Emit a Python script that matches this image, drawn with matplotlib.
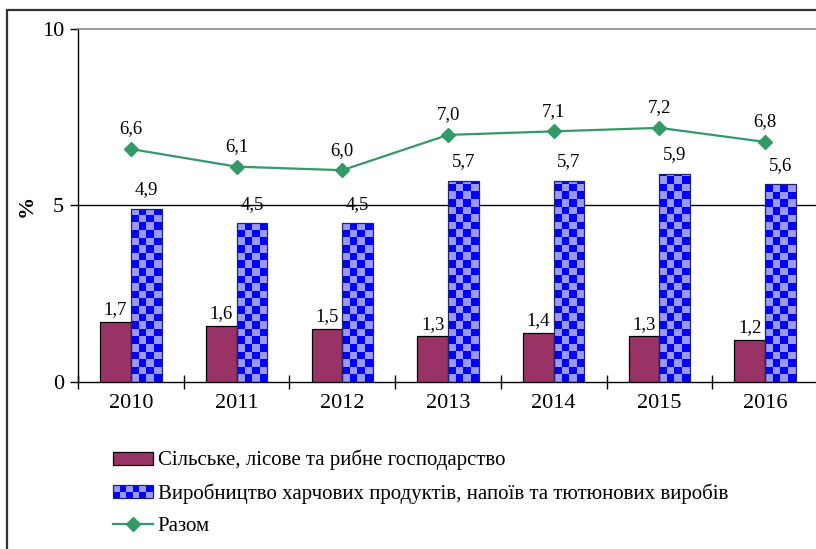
import matplotlib
matplotlib.use('Agg')
import matplotlib.pyplot as plt
import numpy as np
from matplotlib.patches import Rectangle
from matplotlib.colors import ListedColormap
from matplotlib.legend_handler import HandlerBase
from matplotlib.lines import Line2D

years = ['2010', '2011', '2012', '2013', '2014', '2015', '2016']
agri = [1.7, 1.6, 1.5, 1.3, 1.4, 1.3, 1.2]
food = [4.9, 4.5, 4.5, 5.7, 5.7, 5.9, 5.6]
total = [6.6, 6.1, 6.0, 7.0, 7.1, 7.2, 6.8]
series_names = ['Сільське, лісове та рибне господарство',
                'Виробництво харчових продуктів, напоїв та тютюнових виробів',
                'Разом']
yticks = [0, 5, 10]

plt.rcParams['font.family'] = ['Liberation Serif', 'DejaVu Serif']

W, H = 816, 549
fig = plt.figure(figsize=(W / 100, H / 100), dpi=100)

# outer frame
fig.patches.append(Rectangle((7 / W, -0.05), 1.2, 1 - 10 / H + 0.05,
                             transform=fig.transFigure, fill=False,
                             edgecolor='#333333', lw=1.6, zorder=0))

ax_l, ax_b, ax_w, ax_h = 78, 549 - 382, 740, 353
ax = fig.add_axes([ax_l / W, ax_b / H, ax_w / W, ax_h / H])
ax.set_facecolor('none')

x = np.arange(len(years))
w = 0.29
maroon = '#993366'
dark_blue = '#0000ff'
light_blue = '#9999ff'
green = '#339966'
cmap = ListedColormap([light_blue, dark_blue])

ax.bar(x - w / 2, agri, w, color=maroon, edgecolor='black', lw=0.9, zorder=3)
bars2 = ax.bar(x + w / 2, food, w, color=light_blue, edgecolor='none', lw=0, zorder=2)

px_x = ax_w / len(years)   # pixels per category unit
px_y = ax_h / 10.0         # pixels per y unit
sq = 7.6
sqx, sqy = sq / px_x, sq / px_y
for rect in bars2:
    x0 = rect.get_x()
    bw = rect.get_width()
    bh = rect.get_height()
    ncol = int(np.ceil(bw / sqx)) + 1
    nrow = int(np.ceil(bh / sqy)) + 1
    arr = np.add.outer(np.arange(nrow), np.arange(ncol)) % 2
    im = ax.imshow(arr, cmap=cmap, extent=(x0, x0 + ncol * sqx, 0, nrow * sqy),
                   origin='lower', interpolation='nearest', aspect='auto', zorder=2.5)
    im.set_clip_path(rect)
    ax.add_patch(Rectangle((x0, 0), bw, bh, fill=False, edgecolor='#222266', lw=0.9, zorder=3))

ax.plot(x, total, color=green, lw=1.6, marker='D', ms=7.5, mfc=green, mec=green, zorder=5)

def fmt(v):
    return f'{v:.1f}'.replace('.', ',')

lab_fs = 13.5
for xi, v in zip(x, agri):
    ax.annotate(fmt(v), (xi - w / 2, v), xytext=(0, 12 * 0.72), textcoords='offset points',
                ha='center', va='center', fontsize=lab_fs)
for xi, v in zip(x, food):
    ax.annotate(fmt(v), (xi + w / 2, v), xytext=(0, 19 * 0.72), textcoords='offset points',
                ha='center', va='center', fontsize=lab_fs)
for xi, v in zip(x, total):
    ax.annotate(fmt(v), (xi, v), xytext=(0, 20 * 0.72), textcoords='offset points',
                ha='center', va='center', fontsize=lab_fs)

ax.set_xlim(-0.5, len(years) - 0.5)
ax.set_ylim(0, 10)
ax.axhline(5, color='black', lw=1.0, zorder=1)

ax.set_yticks(yticks)
ax.set_yticklabels([str(t) for t in yticks], fontsize=16)
ax.tick_params(axis='y', direction='out', length=6, width=1, pad=4)
ax.set_xticks(x)
ax.set_xticklabels(years, fontsize=16)
ax.set_xticks(np.arange(len(years) + 1) - 0.5, minor=True)
ax.tick_params(axis='x', which='major', length=0, pad=9)
ax.tick_params(axis='x', which='minor', direction='inout', length=10, width=1)

for s in ['left', 'bottom']:
    ax.spines[s].set_color('black')
    ax.spines[s].set_linewidth(1.0)
ax.spines['top'].set_color('#888888')
ax.spines['top'].set_linewidth(1.2)
ax.spines['right'].set_visible(False)

fig.text(27 / W, 1 - 206 / H, '%', rotation=90, fontsize=16, fontweight='bold',
         ha='center', va='center')


class CheckerHandler(HandlerBase):
    def create_artists(self, legend, orig_handle, xdescent, ydescent, width, height,
                       fontsize, trans):
        arts = []
        ncol, nrow = 6, 2
        cw, ch = width / ncol, height / nrow
        for i in range(nrow):
            for j in range(ncol):
                c = dark_blue if (i + j) % 2 == 0 else light_blue
                r = Rectangle((-xdescent + j * cw, -ydescent + i * ch), cw, ch,
                              facecolor=c, edgecolor='none', transform=trans)
                arts.append(r)
        arts.append(Rectangle((-xdescent, -ydescent), width, height, fill=False,
                              edgecolor='#222266', lw=0.9, transform=trans))
        return arts


h1 = Rectangle((0, 0), 1, 1, facecolor=maroon, edgecolor='black', lw=0.9)
h2 = Rectangle((0, 0), 1, 1)
h3 = Line2D([], [], color=green, lw=1.6, marker='D', ms=7.5, mfc=green, mec=green)
leg = fig.legend([h1, h2, h3], series_names, loc='upper left',
                 bbox_to_anchor=(113 / W, 1 - 450 / H), frameon=False, fontsize=15,
                 borderpad=0, borderaxespad=0,
                 handlelength=1.9, handleheight=0.58, handletextpad=0.25,
                 labelspacing=0.62, handler_map={h2: CheckerHandler()})

fig.savefig('out.png', dpi=100)
